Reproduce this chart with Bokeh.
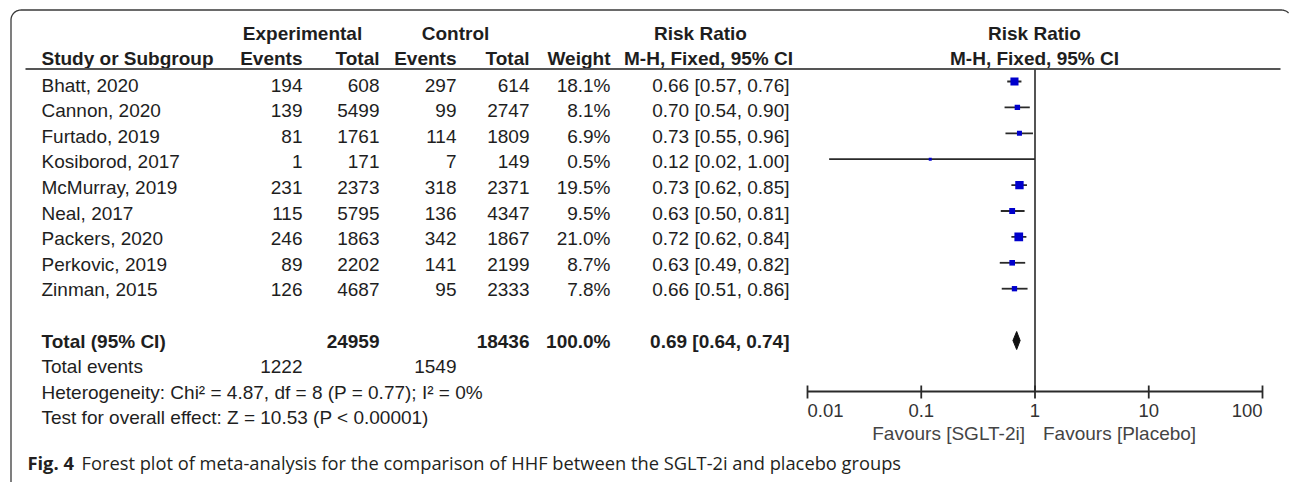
import math
import numpy as np
from bokeh.plotting import figure
from bokeh.models import Range1d, LogScale
from bokeh.embed import file_html
from bokeh.resources import INLINE
from bokeh.core.properties import value

# ---------------- data ----------------
studies = ["Bhatt, 2020", "Cannon, 2020", "Furtado, 2019", "Kosiborod, 2017", "McMurray, 2019",
           "Neal, 2017", "Packers, 2020", "Perkovic, 2019", "Zinman, 2015"]
exp_events = [194, 139, 81, 1, 231, 115, 246, 89, 126]
exp_total = [608, 5499, 1761, 171, 2373, 5795, 1863, 2202, 4687]
ctl_events = [297, 99, 114, 7, 318, 136, 342, 141, 95]
ctl_total = [614, 2747, 1809, 149, 2371, 4347, 1867, 2199, 2333]
weights = [18.1, 8.1, 6.9, 0.5, 19.5, 9.5, 21.0, 8.7, 7.8]
rr = [0.66, 0.70, 0.73, 0.12, 0.73, 0.63, 0.72, 0.63, 0.66]
rr_lo = [0.57, 0.54, 0.55, 0.0155, 0.62, 0.50, 0.62, 0.49, 0.51]
rr_hi = [0.76, 0.90, 0.96, 1.00, 0.85, 0.81, 0.84, 0.82, 0.86]

total_exp = 24959
total_ctl = 18436
total_weight = 100.0
total_rr = 0.69
total_lo = 0.64
total_hi = 0.74
total_events_exp = 1222
total_events_ctl = 1549
heterogeneity = "Heterogeneity: Chi\u00b2 = 4.87, df = 8 (P = 0.77); I\u00b2 = 0%"
overall = "Test for overall effect: Z = 10.53 (P < 0.00001)"

axis_ticks = [0.01, 0.1, 1, 10, 100]
axis_tick_labels = ["0.01", "0.1", "1", "10", "100"]
favours_left = "Favours [SGLT-2i]"
favours_right = "Favours [Placebo]"
caption_bold = "Fig. 4"
caption_text = "Forest plot of meta-analysis for the comparison of HHF between the SGLT-2i and placebo groups"

# ---------------- layout ----------------
W, H = 1292, 482
FONT = "Liberation Sans"
FS = "19px"
TXT = "#1e1e1e"

p = figure(width=W, height=H, x_range=Range1d(0, W), y_range=Range1d(H, 0),
           min_border=0, toolbar_location=None, output_backend="svg",
           x_axis_type=None, y_axis_type=None)
p.grid.visible = False
p.outline_line_color = None
p.background_fill_color = "white"
p.border_fill_color = "white"

# log scale for the forest part: pixel 807 <-> 0.01, pixel 1262 <-> 100
PX0, PX1 = 807.0, 1262.0
K = (PX1 - PX0) / 4.0
p.extra_x_ranges = {"rr": Range1d(10 ** (-2 - PX0 / K), 10 ** (-2 + (W - PX0) / K))}
p.extra_x_scales = {"rr": LogScale()}


def text_y(i):
    return 84.5 + 25.6 * i


def mark_y(i):
    return 81.0 + 25.9 * i


def txt(xs, ys, texts, align="left", bold=False, size=FS, color=TXT, font=FONT, rng="default", x_offset=0):
    p.text(x=xs, y=ys, text=texts, text_align=align, text_baseline="middle",
           text_font=value(font), text_font_size=size,
           text_font_style="bold" if bold else "normal", text_color=color,
           x_range_name=rng, x_offset=x_offset)


# border (rounded top-left corner)
r = 10
t = np.linspace(math.pi, 1.5 * math.pi, 20)
bx = [10.5] + list(10.5 + r + r * np.cos(t)) + [1281.0]
by = [H] + list(9.5 + r + r * np.sin(t)) + [9.5]
t2 = np.linspace(1.5 * math.pi, 1.75 * math.pi, 8)
bx += list(1281.0 + r * np.cos(t2))
by += list(9.5 + r + r * np.sin(t2))
p.line(bx, by, line_color="#3a3a3a", line_width=1.3)

# headers
HY1, HY2 = 33, 57.5
txt([302], [HY1], ["Experimental"], align="center", bold=True)
txt([455], [HY1], ["Control"], align="center", bold=True)
txt([700], [HY1], ["Risk Ratio"], align="center", bold=True)
txt([1034], [HY1], ["Risk Ratio"], align="center", bold=True)
txt([41], [HY2], ["Study or Subgroup"], bold=True)
txt([302, 379, 456, 529, 610], [HY2] * 5, ["Events", "Total", "Events", "Total", "Weight"], align="right", bold=True)
txt([708], [HY2], ["M-H, Fixed, 95% CI"], align="center", bold=True)
txt([1034], [HY2], ["M-H, Fixed, 95% CI"], align="center", bold=True)
p.segment(x0=[25], x1=[1280], y0=[68.5], y1=[68.5], line_color="#555555", line_width=2)

# study rows
n = len(studies)
ys = [text_y(i) for i in range(n)]
txt([41] * n, ys, studies)
txt([302] * n, ys, [str(v) for v in exp_events], align="right")
txt([379] * n, ys, [str(v) for v in exp_total], align="right")
txt([456] * n, ys, [str(v) for v in ctl_events], align="right")
txt([529] * n, ys, [str(v) for v in ctl_total], align="right")
txt([610] * n, ys, ["%.1f%%" % w for w in weights], align="right")
txt([789] * n, ys,
    ["%.2f [%.2f, %.2f]" % (a, b, c) for a, b, c in zip(rr, rr_lo, rr_hi)], align="right")

# totals
ty = text_y(10)
txt([41], [ty], ["Total (95% CI)"], bold=True)
txt([379], [ty], [str(total_exp)], align="right", bold=True)
txt([529], [ty], [str(total_ctl)], align="right", bold=True)
txt([610], [ty], ["%.1f%%" % total_weight], align="right", bold=True)
txt([789], [ty], ["%.2f [%.2f, %.2f]" % (total_rr, total_lo, total_hi)], align="right", bold=True)
ey = text_y(11)
txt([41], [ey], ["Total events"])
txt([302], [ey], [str(total_events_exp)], align="right")
txt([456], [ey], [str(total_events_ctl)], align="right")
txt([41], [text_y(12)], [heterogeneity])
txt([41], [text_y(13)], [overall])

# forest plot
AXY = 391
LINE = "#2a2a2a"
p.segment(x0=[1], x1=[1], y0=[69], y1=[AXY], x_range_name="rr", line_color=LINE, line_width=1.6)
my = [mark_y(i) for i in range(n)]
p.segment(x0=rr_lo, x1=rr_hi, y0=my, y1=my, x_range_name="rr", line_color=LINE, line_width=1.8)
sizes = [max(3.0, 1.9 * math.sqrt(w)) for w in weights]
p.scatter(x=rr, y=my, marker="square", size=sizes, fill_color="#0000cc", line_color=None, x_range_name="rr")
dy = mark_y(10)
p.patch(x=[total_lo, total_rr, total_hi, total_rr], y=[dy, dy - 9, dy, dy + 9], x_range_name="rr",
        fill_color="#111111", line_color="#111111", line_width=1)

# axis
p.segment(x0=[axis_ticks[0]], x1=[axis_ticks[-1]], y0=[AXY], y1=[AXY], x_range_name="rr",
          line_color=LINE, line_width=1.8)
p.segment(x0=axis_ticks, x1=axis_ticks, y0=[AXY - 6] * len(axis_ticks), y1=[AXY + 7] * len(axis_ticks),
          x_range_name="rr", line_color=LINE, line_width=1.8)
LY = 410
AXC = "#333333"
txt([axis_ticks[0]], [LY], [axis_tick_labels[0]], align="left", rng="rr", color=AXC, size="18.5px")
txt(axis_ticks[1:-1], [LY] * 3, axis_tick_labels[1:-1], align="center", rng="rr", color=AXC, size="18.5px")
txt([axis_ticks[-1]], [LY], [axis_tick_labels[-1]], align="right", rng="rr", color=AXC, size="18.5px")
txt([1], [433], [favours_left], align="right", rng="rr", color="#444444", size="19px", x_offset=-10)
txt([1], [433], [favours_right], align="left", rng="rr", color="#444444", size="19px", x_offset=8)

# caption
txt([27], [462], [caption_bold], bold=True, font="Open Sans", size="18.3px", color="#231f20")
txt([81], [462], [caption_text], font="Open Sans", size="18.3px", color="#231f20")

open("out.html", "w").write(file_html(p, INLINE))
